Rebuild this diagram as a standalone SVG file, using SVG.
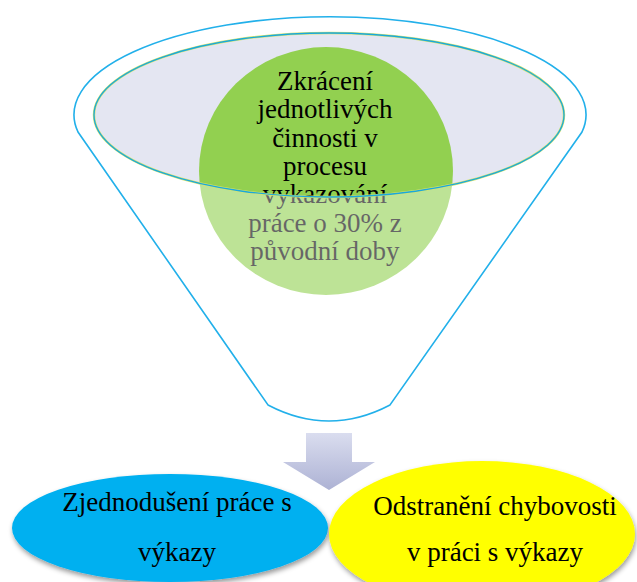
<svg xmlns="http://www.w3.org/2000/svg" width="637" height="582" viewBox="0 0 637 582">
  <style>
    text { font-family: "Liberation Serif", "DejaVu Serif", serif; font-size: 27px; text-anchor: middle; fill: #000; }
    .funnel-line { fill: none; stroke: #22B0EA; stroke-width: 1.6; }
  </style>
  <defs>
    <linearGradient id="arrowFill" x1="0" y1="0" x2="0" y2="1">
      <stop offset="0" stop-color="#DADDEF"/>
      <stop offset="1" stop-color="#ADB2D4"/>
    </linearGradient>
    <filter id="softShadow" x="-10%" y="-10%" width="120%" height="130%">
      <feDropShadow dx="1" dy="3" stdDeviation="2.5" flood-color="#000" flood-opacity="0.4"/>
    </filter>
  </defs>

  <!-- funnel mouth: lavender disc -->
  <g id="funnel-mouth">
    <ellipse cx="329" cy="115" rx="235" ry="82" fill="#E4E6F2"/>
  </g>

  <!-- goal circle inside the funnel -->
  <g id="goal">
    <ellipse cx="326" cy="171" rx="127" ry="124" fill="#92D050"/>
    <text x="325" y="90">Zkrácení</text>
    <text x="325" y="118">jednotlivých</text>
    <text x="325" y="147">činnosti v</text>
    <text x="325" y="175">procesu</text>
    <text x="325" y="203">vykazování</text>
    <text x="325" y="232">práce o 30% z</text>
    <text x="325" y="260">původní doby</text>
  </g>

  <!-- funnel body: translucent white with the mouth cut out -->
  <g id="funnel">
    <path d="M78,132 A256,98 0 1 1 582,132 L390,405 Q329,437 268,405 Z
             M94,115 A235,82 0 1 0 564,115 A235,82 0 1 0 94,115 Z"
          fill="#FFFFFF" fill-opacity="0.4" fill-rule="evenodd"/>
    <path class="funnel-line" d="M78,132 A256,98 0 1 1 582,132 L390,405 Q329,437 268,405 Z"/>
    <ellipse cx="329" cy="115" rx="235" ry="82" fill="none" stroke="#D8E46A" stroke-width="2.4"/>
    <ellipse cx="329" cy="115" rx="235" ry="82" fill="none" stroke="#1AA8DC" stroke-width="1.3"/>
  </g>

  <!-- connector: arrow from funnel to outcomes -->
  <g id="connectors">
    <path d="M306,433 H352 V462 H375 L329,490 L283,462 H306 Z" fill="url(#arrowFill)"/>
  </g>

  <!-- outcome: simplification -->
  <g id="simplify">
    <ellipse cx="170" cy="528" rx="158" ry="54" fill="#00B0F0" filter="url(#softShadow)"/>
    <text x="177" y="511">Zjednodušení práce s</text>
    <text x="177" y="561">výkazy</text>
  </g>

  <!-- outcome: error removal -->
  <g id="errors">
    <ellipse cx="482" cy="534" rx="153" ry="73" fill="#FFFF00" filter="url(#softShadow)"/>
    <text x="495" y="515">Odstranění chybovosti</text>
    <text x="495" y="561">v práci s výkazy</text>
  </g>
</svg>
